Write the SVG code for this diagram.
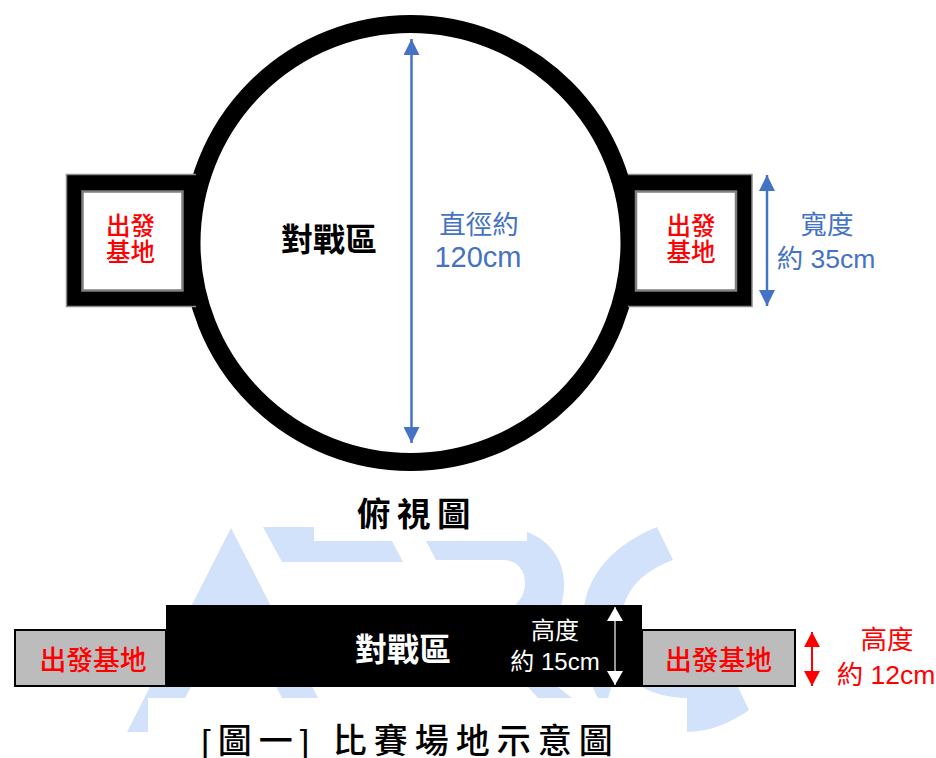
<svg xmlns="http://www.w3.org/2000/svg" width="936" height="758" viewBox="0 0 936 758">
<style>
text{font-family:"Liberation Sans","Noto Sans CJK TC",sans-serif;text-anchor:middle}
.b{font-weight:500}
.h{font-weight:700}
.wm{fill:#d2e2fa}
.red{fill:#ff0000}
.blue{fill:#4472c4}
.base{fill:#fff;stroke:#7f7f7f;stroke-width:2.5}
.shell{fill:#000}
.edge{fill:none;stroke:#8c8c8c;stroke-width:1.5}
.side{fill:#bcbcbc;stroke:#000;stroke-width:2}
</style>
<defs>
<marker id="ab" markerWidth="16" markerHeight="16" refX="16" refY="8" orient="auto-start-reverse" markerUnits="userSpaceOnUse"><path d="M0 0L16 8L0 16Z" fill="#4472c4"/></marker>
<marker id="aw" markerWidth="16" markerHeight="16" refX="14" refY="8" orient="auto-start-reverse" markerUnits="userSpaceOnUse"><path d="M0 0L14 8L0 16Z" fill="#fff"/></marker>
<marker id="ar" markerWidth="16" markerHeight="16" refX="15" refY="8" orient="auto-start-reverse" markerUnits="userSpaceOnUse"><path d="M0 0L15 8L0 16Z" fill="#f00"/></marker>
</defs>
<g id="watermark">
<path class="wm" d="M231 528L318 698H282L273 680L231 612L192 685L185 698H148V732H127Z"/>
<path class="wm" d="M263 527H314V541H392L403 562H282Z"/>
<path class="wm" d="M426 541H527V532C552 541 564 563 564 583C564 600 560 610 555 620L520 640L558 687L572 698H538L528 687L500 650L510 610C522 600 525 592 525 583C525 568 515 560 503 560H436Z"/>
<path class="wm" d="M657 527L673 560C645 570 622 590 622 620C622 650 632 672 642 687C655 694 670 698 687 698V732C710 732 732 722 749 710L738 687L620 660L608 698H598C588 680 583 650 583 620C583 578 612 545 657 527Z"/>
</g>
<g id="arena"><circle cx="410.500" cy="243" r="219" fill="#fff" stroke="#000" stroke-width="18"/><text class="h" font-size="32" x="329" y="251" fill="#000">對戰區</text></g>
<g id="base-left"><path class="shell" d="M66.500 174.500H200V306.500H66.500Z"/><path class="edge" d="M196 174.500H66.500V306.500H196"/><rect class="base" x="82.500" y="191.500" width="100" height="99"/><text class="b red" font-size="24.500" x="130.500" y="235">出發</text><text class="b red" font-size="24.500" x="130.500" y="261">基地</text></g>
<g id="base-right"><path class="shell" d="M625 174.500H752V306.500H625Z"/><path class="edge" d="M628 174.500H752V306.500H628"/><rect class="base" x="636" y="191.500" width="100" height="99"/><text class="b red" font-size="24.500" x="691" y="235">出發</text><text class="b red" font-size="24.500" x="691" y="261">基地</text></g>
<g id="labels-top">
<text class="blue" font-size="26.500" x="479" y="234">直徑約</text><text class="blue" font-size="29" x="478" y="267">120cm</text>
<text class="blue" font-size="26.500" x="827" y="234">寬度</text><text class="blue" font-size="26.500" x="826" y="268">約 35cm</text>
<text class="h" font-size="33.500" letter-spacing="6.500" x="417" y="526" fill="#000">俯視圖</text>
</g>
<g id="base-side-left"><rect class="side" x="15" y="630" width="151" height="56"/><text class="b red" font-size="26.800" x="93" y="670">出發基地</text></g>
<g id="base-side-right"><rect class="side" x="642" y="630" width="153" height="56"/><text class="b red" font-size="26.800" x="718.500" y="670">出發基地</text></g>
<g id="arena-side"><rect x="166" y="605" width="476" height="82" fill="#000"/><text class="h" font-size="32" x="403" y="661" fill="#fff">對戰區</text>
<text font-size="24" x="555" y="639" fill="#fff">高度</text><text font-size="24" x="555" y="670" fill="#fff">約 15cm</text></g>
<g id="labels-bottom">
<text class="red" font-size="26.500" x="887" y="649">高度</text><text class="red" font-size="26.500" x="886" y="684">約 12cm</text>
<text class="b" font-size="34" letter-spacing="7" x="410.500" y="753" fill="#000">[圖一] 比賽場地示意圖</text>
</g>
<g id="connectors">
<line x1="411.500" y1="39" x2="411.500" y2="443" stroke="#4472c4" stroke-width="2.500" marker-start="url(#ab)" marker-end="url(#ab)"/>
<line x1="767" y1="175" x2="767" y2="306" stroke="#4472c4" stroke-width="2.500" marker-start="url(#ab)" marker-end="url(#ab)"/>
<line x1="615" y1="607" x2="615" y2="685" stroke="#c8c8c8" stroke-width="1.500" marker-start="url(#aw)" marker-end="url(#aw)"/>
<line x1="812" y1="632" x2="812" y2="686" stroke="#f00" stroke-width="2" marker-start="url(#ar)" marker-end="url(#ar)"/>
</g>
</svg>
